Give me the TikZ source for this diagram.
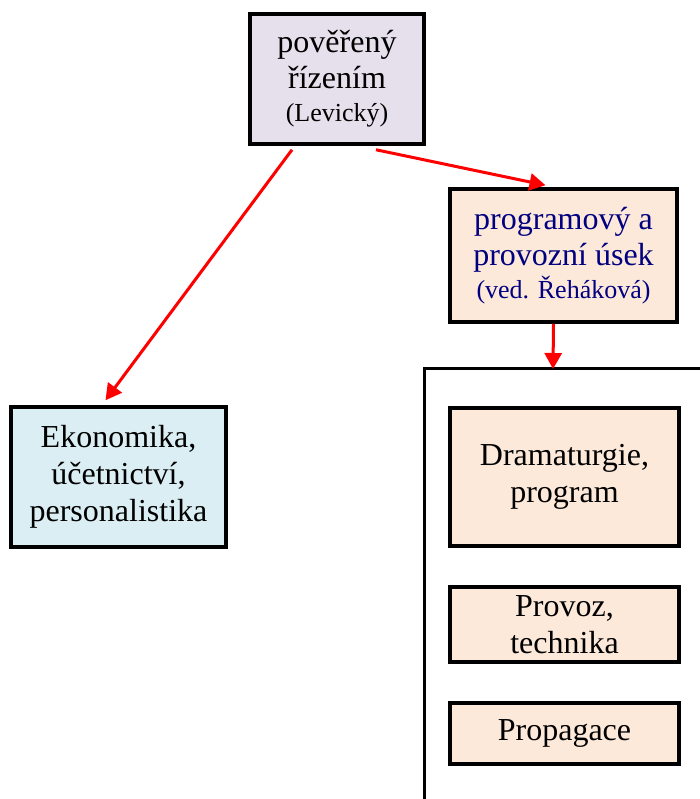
\documentclass[tikz,border=0pt]{standalone}
\usepackage{fontspec}
\setmainfont{Liberation Serif}
\usetikzlibrary{arrows.meta}
\definecolor{lilac}{RGB}{229,224,236}
\definecolor{peach}{RGB}{253,233,217}
\definecolor{icy}{RGB}{218,238,243}
\definecolor{navytext}{RGB}{0,0,128}
\newcommand{\smalltxt}[1]{{\fontsize{26}{31}\selectfont #1}}

\begin{document}
\begin{tikzpicture}[x=1pt,y=-1pt,
  box/.style={draw,line width=3.5pt,align=center,inner sep=0pt,font=\fontsize{32}{37}\selectfont},
  arr/.style={red,line width=3pt,-{Triangle[length=16pt,width=17pt]}}]
\useasboundingbox (0,0) rectangle (700,799);
\node[box,fill=lilac,minimum width=174pt,minimum height=130pt] (lead) at (337,79) {pověřený\\[-1pt]řízením\\[-4pt]\smalltxt{(Levický)}};
\node[box,fill=peach,text=navytext,minimum width=227pt,minimum height=133pt] (prog) at (563.5,255.5) {programový a\\[-1pt]provozní úsek\\[-4pt]\smalltxt{(ved. Řeháková)}};
\node[box,fill=icy,minimum width=215pt,minimum height=140pt] (econ) at (118.5,477) {Ekonomika,\\účetnictví,\\personalistika};
\draw[line width=3pt] (424,799) |- (700,368); \coordinate (frametop) at (553,369);
\node[box,fill=peach,minimum width=229pt,minimum height=138pt] (drama) at (564.5,477) {Dramaturgie,\\program};
\node[box,fill=peach,minimum width=229pt,minimum height=75pt] (provoz) at (564.5,624.5) {Provoz,\\technika};
\node[box,fill=peach,minimum width=229pt,minimum height=61pt] (propag) at (564.5,733.5) {Propagace};
\draw[arr] ([xshift=-45pt,yshift=-4pt]lead.south) -- ([xshift=-13pt,yshift=5pt]econ.north);
\draw[arr] ([xshift=39pt,yshift=-4pt]lead.south) -- ([xshift=-18pt,yshift=2pt]prog.north);
\draw[arr] ([xshift=-10pt]prog.south) -- (frametop);
\end{tikzpicture}
\end{document}
